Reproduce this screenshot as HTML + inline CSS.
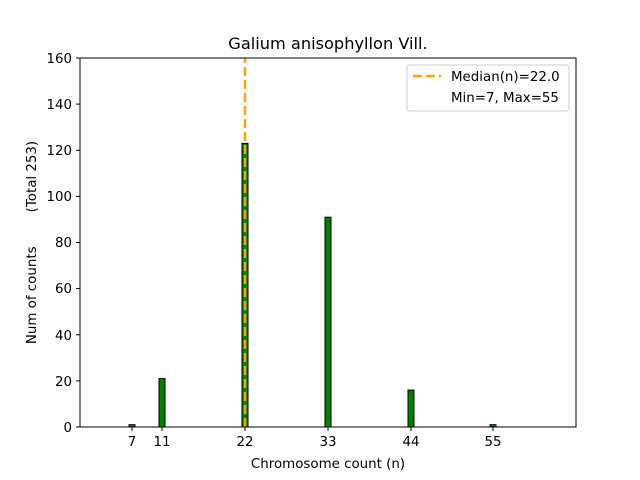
<!DOCTYPE html>
<html><head><style>body{margin:0;background:#fff}svg{display:block}</style></head><body>
<svg width="640" height="480" xmlns="http://www.w3.org/2000/svg" font-family="DejaVu Sans, Liberation Sans, sans-serif">
<rect width="640" height="480" fill="#fff"/>
<g fill="green" stroke="#000" stroke-width="1">
<rect x="129" y="424.7" width="6" height="2.3"/>
<rect x="159" y="378.6" width="6" height="48.4"/>
<rect x="242" y="143.4" width="6" height="283.6"/>
<rect x="325" y="217.2" width="6" height="209.8"/>
<rect x="408" y="390.1" width="6" height="36.9"/>
<rect x="490" y="424.7" width="6" height="2.3"/>
</g>
<line x1="497" y1="427" x2="520" y2="427" stroke="#000"/>
<line x1="245" y1="427" x2="245" y2="58" stroke="orange" stroke-width="2.5" stroke-dasharray="9,4"/>
<rect x="80" y="58" width="496" height="369" fill="none" stroke="#000" stroke-width="1"/>
<g stroke="#000">
<line x1="132" y1="427" x2="132" y2="431"/><line x1="162" y1="427" x2="162" y2="431"/>
<line x1="245" y1="427" x2="245" y2="431"/><line x1="328" y1="427" x2="328" y2="431"/>
<line x1="411" y1="427" x2="411" y2="431"/><line x1="493" y1="427" x2="493" y2="431"/>
<line x1="76" y1="427" x2="80" y2="427"/><line x1="76" y1="380.9" x2="80" y2="380.9"/>
<line x1="76" y1="334.8" x2="80" y2="334.8"/><line x1="76" y1="288.6" x2="80" y2="288.6"/>
<line x1="76" y1="242.5" x2="80" y2="242.5"/><line x1="76" y1="196.4" x2="80" y2="196.4"/>
<line x1="76" y1="150.3" x2="80" y2="150.3"/><line x1="76" y1="104.1" x2="80" y2="104.1"/>
<line x1="76" y1="58" x2="80" y2="58"/>
</g>
<g font-size="13.4" text-anchor="middle">
<text x="132" y="446">7</text><text x="162" y="446">11</text><text x="245" y="446">22</text>
<text x="328" y="446">33</text><text x="411" y="446">44</text><text x="493" y="446">55</text>
<text x="328" y="468">Chromosome count (n)</text>
<text x="328" y="49" font-size="16.2">Galium anisophyllon Vill.</text>
</g>
<g font-size="13.4" text-anchor="end">
<text x="72" y="432">0</text><text x="72" y="386">20</text><text x="72" y="340">40</text>
<text x="72" y="293">60</text><text x="72" y="247">80</text><text x="72" y="201">100</text>
<text x="72" y="155">120</text><text x="72" y="109">140</text><text x="72" y="63">160</text>
</g>
<text transform="translate(36,242.5) rotate(-90)" font-size="13.4" text-anchor="middle" xml:space="preserve" style="white-space:pre">Num of counts        (Total 253)</text>
<rect x="407" y="65" width="162" height="46" rx="3" fill="#fff" stroke="#ccc"/>
<line x1="413" y1="76" x2="441" y2="76" stroke="orange" stroke-width="2.5" stroke-dasharray="9,4"/>
<text x="451" y="81" font-size="13.4">Median(n)=22.0</text>
<text x="451" y="102" font-size="13.4">Min=7, Max=55</text>
</svg>
</body></html>
